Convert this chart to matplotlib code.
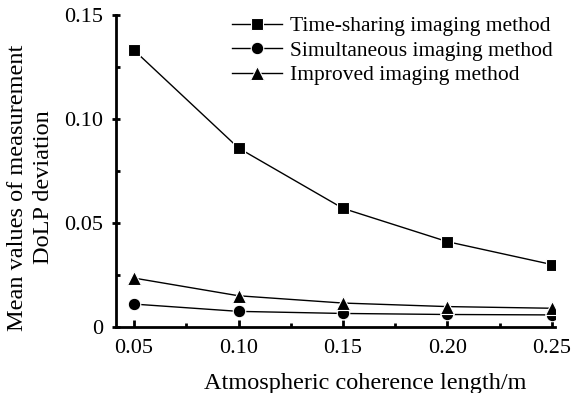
import matplotlib
matplotlib.use('Agg')
import matplotlib.pyplot as plt
from matplotlib.ticker import MultipleLocator

plt.rcParams['font.family'] = ['Liberation Serif', 'DejaVu Serif']

# Data
coherence_length = [0.05, 0.10, 0.15, 0.20, 0.25]
time_sharing = [0.133, 0.086, 0.057, 0.041, 0.030]
simultaneous = [0.011, 0.0075, 0.0065, 0.006, 0.0058]
improved = [0.0235, 0.015, 0.0115, 0.0098, 0.009]

fig = plt.figure(figsize=(5.74, 3.93), dpi=100)
ax = fig.add_axes([0.202, 0.168, 0.765, 0.794])

ax.plot(coherence_length, time_sharing, color='black', linewidth=1.0,
        marker='s', markersize=8.5, markeredgecolor='white', markeredgewidth=0.8,
        label='Time-sharing imaging method')
ax.plot(coherence_length, simultaneous, color='black', linewidth=1.0,
        marker='o', markersize=9, markeredgecolor='white', markeredgewidth=0.8,
        label='Simultaneous imaging method')
ax.plot(coherence_length, improved, color='black', linewidth=1.0,
        marker='^', markersize=10, markeredgecolor='white', markeredgewidth=0.8,
        label='Improved imaging method')

ax.set_xlim(0.0413, 0.2515)
ax.set_ylim(0, 0.15)
ax.set_xticks(coherence_length)
ax.set_xticklabels(['0.05', '0.10', '0.15', '0.20', '0.25'])
ax.set_yticks([0, 0.05, 0.10, 0.15])
ax.set_yticklabels(['0', '0.05', '0.10', '0.15'])
ax.xaxis.set_minor_locator(MultipleLocator(0.025))
ax.yaxis.set_minor_locator(MultipleLocator(0.025))

for side in ['top', 'right']:
    ax.spines[side].set_visible(False)
for side in ['left', 'bottom']:
    ax.spines[side].set_linewidth(2)

ax.tick_params(axis='both', which='both', labelsize=16, width=2, color='black')
ax.tick_params(axis='x', which='major', direction='in', length=5, pad=9)
ax.tick_params(axis='x', which='minor', direction='in', length=3)
ax.tick_params(axis='y', which='major', direction='inout', length=6, pad=6)
ax.tick_params(axis='y', which='minor', direction='in', length=3)

ax.set_xlabel('Atmospheric coherence length/m', fontsize=17.5, va='center')
ax.set_ylabel('Mean values of measurement\nDoLP deviation', fontsize=17.5,
              linespacing=1.3, va='center', ha='center')
ax.xaxis.set_label_coords(0.567, -0.18)
ax.yaxis.set_label_coords(-0.195, 0.447)

ax.legend(loc='upper right', bbox_to_anchor=(1.02, 1.03), frameon=False,
          fontsize=15.5, handlelength=2.3, handletextpad=0.4,
          labelspacing=0.2, borderaxespad=0.1)

fig.savefig('out.png', dpi=100)
